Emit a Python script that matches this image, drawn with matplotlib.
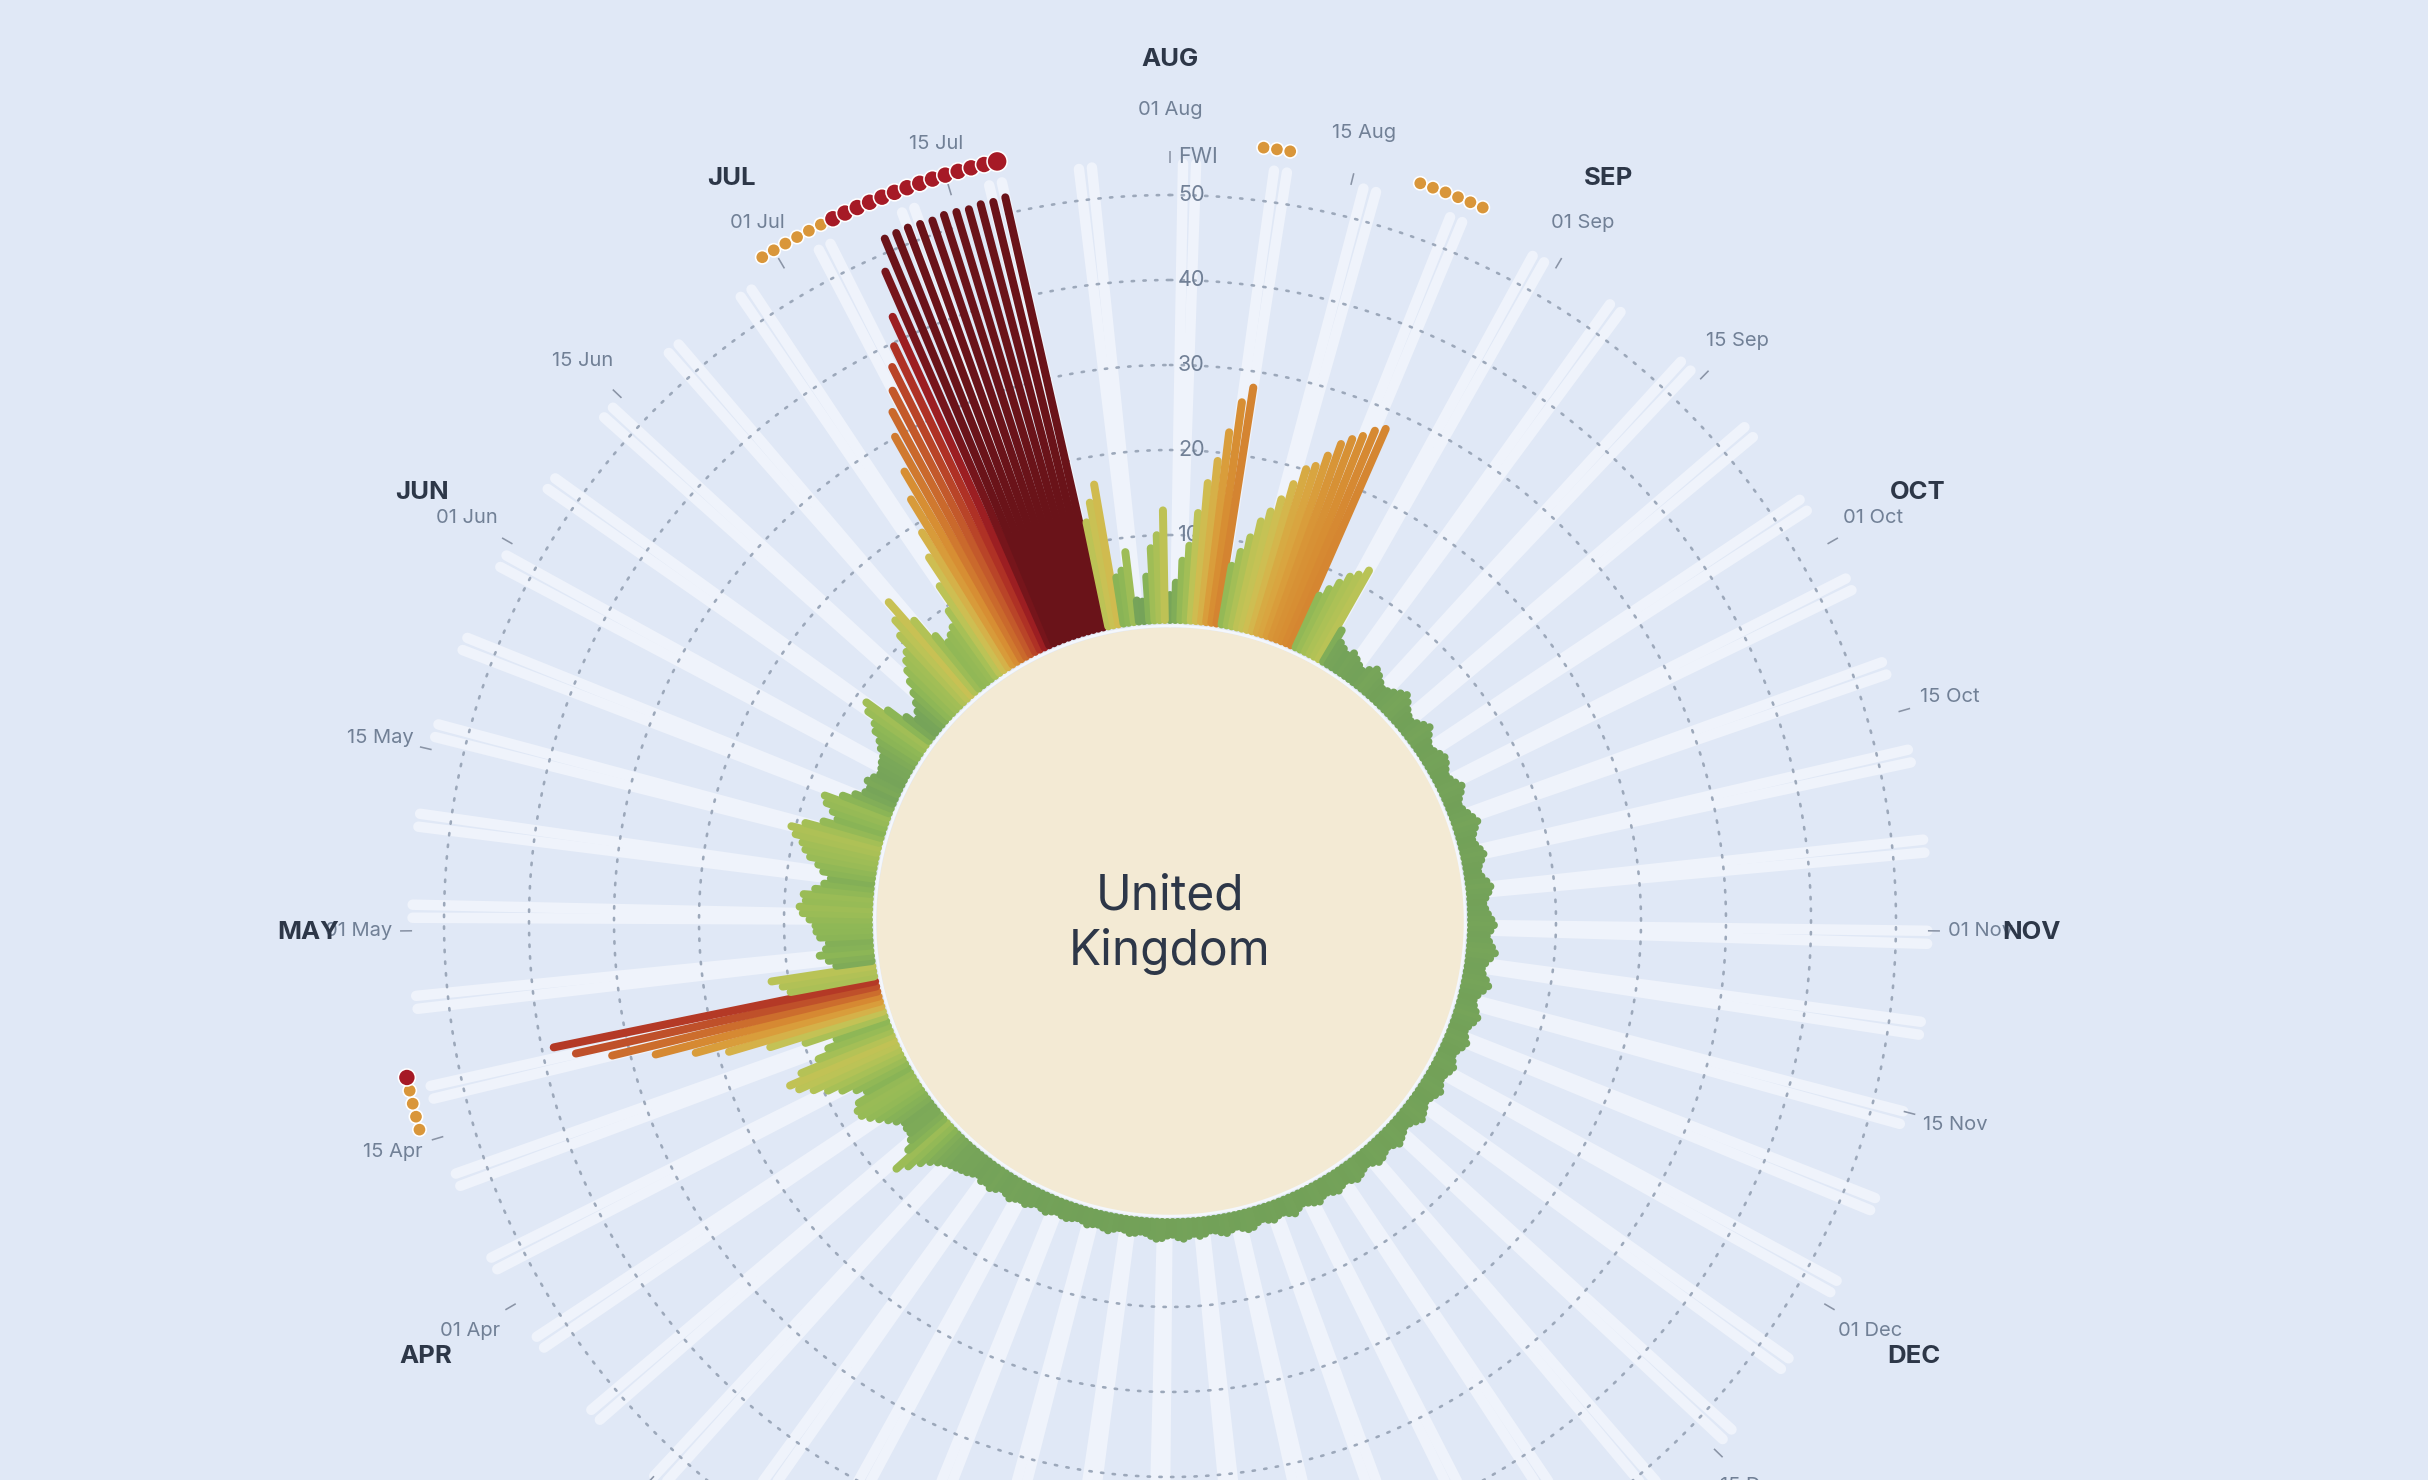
import numpy as np
import matplotlib
matplotlib.use("Agg")
import matplotlib.pyplot as plt
from matplotlib.colors import LinearSegmentedColormap, Normalize
import datetime as dt

plt.rcParams['font.family'] = ['Inter', 'DejaVu Sans']

# ---------------- data ----------------
start_date = dt.date(2024, 8, 1)
region_name = ["United", "Kingdom"]

fwi_aug_2024 = [3.0, 4.4, 7.0, 8.8, 12.7, 16.3, 19.0, 22.5, 26.2, 28.1,
                7.0, 8.8, 10.7, 12.8, 14.2, 15.9, 18.0, 20.1, 20.8, 22.4,
                24.2, 25.2, 26.0, 27.1, 27.8, 6.7, 7.9, 9.1, 10.3, 11.0, 12.0]
fwi_sep_2024 = [4.3, 3.0, 2.6, 2.2, 2.8, 2.4, 2.0, 1.7, 2.3, 2.9,
                2.5, 2.0, 1.6, 1.8, 2.2, 2.7, 3.1, 2.6, 2.0, 1.6,
                1.4, 1.8, 2.3, 2.7, 2.1, 1.6, 1.3, 1.5, 1.9, 2.2]
fwi_oct_2024 = [2.0, 1.6, 1.3, 1.5, 1.9, 2.4, 2.0, 1.5, 1.2, 1.4,
                1.8, 2.2, 2.6, 2.1, 1.7, 1.4, 1.6, 2.0, 2.3, 1.9,
                1.5, 1.3, 1.6, 2.1, 2.5, 2.2, 1.8, 1.5, 1.7, 2.0, 2.4]
fwi_nov_2024 = [2.7, 2.3, 1.9, 2.2, 2.6, 3.0, 2.5, 2.0, 1.7, 1.9,
                2.4, 2.8, 2.3, 1.8, 1.5, 1.7, 2.1, 2.5, 2.2, 1.8,
                1.6, 1.9, 2.3, 2.0, 1.6, 1.4, 1.7, 2.1, 1.9, 1.6]
fwi_dec_2024 = [1.5, 1.8, 2.2, 1.9, 1.6, 1.4, 1.7, 2.0, 2.3, 1.9,
                1.5, 1.3, 1.6, 1.9, 2.2, 1.8, 1.5, 1.7, 2.0, 2.1,
                1.7, 1.4, 1.6, 1.9, 2.1, 1.8, 1.5, 1.7, 2.0, 1.8, 1.5]
fwi_jan_2025 = [1.6, 2.0, 1.8, 1.5, 1.3, 1.6, 2.0, 1.7, 1.4, 1.5,
                1.8, 1.6, 1.3, 1.5, 1.9, 2.0, 1.7, 1.4, 1.6, 1.9,
                1.7, 1.4, 1.3, 1.6, 1.8, 1.5, 1.7, 2.0, 1.8, 1.5, 1.6]
fwi_feb_2025 = [1.9, 2.0, 1.7, 1.4, 1.3, 1.5, 1.6, 1.3, 1.2, 1.4,
                1.7, 1.5, 1.3, 1.4, 1.6, 1.3, 1.2, 1.4, 1.6, 1.5,
                1.3, 1.5, 1.8, 1.6, 1.4, 1.7, 2.0, 1.8]
fwi_mar_2025 = [2.0, 2.3, 2.0, 1.8, 2.2, 2.5, 2.2, 2.4, 2.0, 2.3,
                2.6, 2.8, 3.0, 3.2, 3.5, 4.0, 4.6, 5.5, 6.8, 8.0,
                5.5, 4.5, 4.0, 4.0, 3.8, 4.5, 5.2, 6.0, 6.8, 7.5, 7.6]
fwi_apr_2025 = [7.0, 5.5, 6.5, 8.0, 9.5, 11.0, 12.5, 13.3, 11.5, 9.0,
                7.5, 6.2, 9.8, 13.9, 18.7, 22.5, 27.1, 32.1, 36.2, 38.6,
                10.0, 10.8, 12.0, 4.2, 5.0, 6.0, 5.2, 4.8, 5.8, 6.2]
fwi_may_2025 = [6.3, 7.0, 7.8, 8.2, 7.5, 7.8, 6.5, 5.5, 4.8, 5.8,
                6.5, 7.6, 8.3, 8.8, 9.8, 10.5, 9.0, 7.0, 5.5, 6.3,
                7.3, 7.8, 5.8, 4.5, 3.5, 3.2, 3.8, 3.3, 2.8, 3.0, 3.3]
fwi_jun_2025 = [3.5, 4.2, 4.8, 5.8, 6.4, 7.8, 8.6, 6.0, 3.8, 2.6,
                3.2, 4.0, 5.0, 6.2, 7.3, 8.2, 8.9, 10.8, 12.5, 14.6,
                11.0, 8.0, 6.5, 7.0, 7.6, 9.4, 12.4, 15.9, 18.8, 22.8]
fwi_jul_2025 = [26.0, 30.1, 32.8, 35.0, 37.5, 39.6, 42.8, 48.0, 51.6, 51.7,
                51.8, 51.7, 51.6, 51.8, 51.7, 51.6, 51.8, 51.7, 51.9, 12.5,
                14.7, 16.7, 5.5, 6.2, 8.3, 2.5, 2.3, 5.2, 8.5, 10.0, 12.9]

fwi = np.array(fwi_aug_2024 + fwi_sep_2024 + fwi_oct_2024 + fwi_nov_2024 +
               fwi_dec_2024 + fwi_jan_2025 + fwi_feb_2025 + fwi_mar_2025 +
               fwi_apr_2025 + fwi_may_2025 + fwi_jun_2025 + fwi_jul_2025)
n_days = len(fwi)

grid_values = [10, 20, 30, 40, 50]
high_threshold = 21.3
very_high_threshold = 38.0
highlight_weekdays = [4, 5]   # paired light background bars

color_stops = [(0, '#6f9e58'), (3, '#77a559'), (6, '#8db756'), (9, '#a4bf56'),
               (12, '#b9c356'), (15, '#cbc154'), (18, '#d4b64c'), (21, '#d9a43f'),
               (24, '#d89637'), (27, '#d68a32'), (30, '#d07a2f'), (33, '#ca682c'),
               (36, '#c0532a'), (38.5, '#b53b26'), (41, '#a82324'), (44, '#951a20'),
               (47, '#7c161c'), (50, '#6c131a'), (52, '#6a1319')]

# ---------------- style / geometry ----------------
BG = '#e0e8f6'
CREAM = '#f3ead4'
WEEKEND = '#eff3fb'
GRID = '#9ca8ba'
DARK = '#2d3748'
GRAY = '#718096'
ORANGE_DOT = '#d9963a'
RED_DOT = '#a61a26'

W, H = 2428, 1480
CX, CY = 1170, H - 921
R_AX = 900.0
ZERO_PX = 301.0
PX_PER_UNIT = 8.5
PT = 0.72  # points per pixel at 100 dpi


def px_to_r(px):
    return (px - ZERO_PX) / PX_PER_UNIT


r_min = px_to_r(0)
r_max = px_to_r(R_AX)

vmax = color_stops[-1][0]
cmap = LinearSegmentedColormap.from_list(
    'fwi', [(v / vmax, c) for v, c in color_stops])
norm = Normalize(0, vmax)

dates = [start_date + dt.timedelta(days=i) for i in range(n_days)]
theta = np.arange(n_days) * 2 * np.pi / n_days

fig = plt.figure(figsize=(W / 100, H / 100), dpi=100, facecolor=BG)
ax = fig.add_axes([(CX - R_AX) / W, (CY - R_AX) / H, 2 * R_AX / W, 2 * R_AX / H],
                  projection='polar')
ax.set_theta_zero_location('N')
ax.set_theta_direction(-1)
ax.set_axis_off()

full = np.linspace(0, 2 * np.pi, 1441)

# inner disk
ax.fill_between(full, r_min, px_to_r(294), color=CREAM, zorder=6, lw=0)
ax.plot(full, np.full_like(full, px_to_r(295)), color='#f4f7fc', lw=2.5 * PT, zorder=6)

# weekend background bars
wk = np.array([d.weekday() in highlight_weekdays for d in dates])
lc = ax.vlines(theta[wk], 0, px_to_r(757.5), colors=WEEKEND, lw=10.5 * PT, zorder=1)
lc.set_capstyle('round')

# dotted grid circles
for g in grid_values:
    ax.plot(full, np.full_like(full, g), color=GRID, lw=2.6 * PT,
            linestyle=(0, (0.9, 3.6)), zorder=2, dash_capstyle='round')
    ax.annotate(str(g), xy=(0, g), xytext=(8 * PT, 0), textcoords='offset points',
                ha='left', va='center', fontsize=15.5, color=GRAY, zorder=3)
ax.annotate('FWI', xy=(0, px_to_r(764)), xytext=(8 * PT, 0), textcoords='offset points',
            ha='left', va='center', fontsize=15.5, color=GRAY, zorder=3)

# data bars
bars = ax.vlines(theta, 0, fwi, colors=cmap(norm(fwi)), lw=8 * PT, zorder=4)
bars.set_capstyle('round')

# danger dots
r_dot = px_to_r(779)
hi = fwi >= high_threshold
vh = fwi >= very_high_threshold
imax = int(np.argmax(fwi))
sizes, cols, idx = [], [], []
for i in range(n_days):
    if not hi[i]:
        continue
    idx.append(i)
    if vh[i]:
        cols.append(RED_DOT)
        sizes.append(210 if i == imax else 150)
    else:
        cols.append(ORANGE_DOT)
        sizes.append(92)
ax.scatter(theta[idx], np.full(len(idx), r_dot), s=sizes, c=cols,
           edgecolors='white', linewidths=1.6 * PT, zorder=7)

# date ticks and labels
for i, d in enumerate(dates):
    if d.day in (1, 15):
        ax.plot([theta[i], theta[i]], [px_to_r(758), px_to_r(770)], color='#8a94a6',
                lw=1.6 * PT, zorder=5, solid_capstyle='butt')
        ax.text(theta[i], px_to_r(811), d.strftime('%d %b'), ha='center', va='center',
                fontsize=14.5, color=GRAY, zorder=5)
    if d.day == 1:
        ax.text(theta[i], px_to_r(862), d.strftime('%b').upper(), ha='center',
                va='center', fontsize=18.5, fontweight='bold', color=DARK, zorder=5)

# centre label
ax.annotate(region_name[0], xy=(0, r_min), xytext=(0, 11 * PT), textcoords='offset points',
            ha='center', va='baseline', fontsize=34.5, color=DARK, zorder=8)
ax.annotate(region_name[1], xy=(0, r_min), xytext=(0, -44 * PT), textcoords='offset points',
            ha='center', va='baseline', fontsize=34.5, color=DARK, zorder=8)

ax.set_ylim(r_min, r_max)
fig.savefig('out.png', dpi=100, facecolor=BG)
